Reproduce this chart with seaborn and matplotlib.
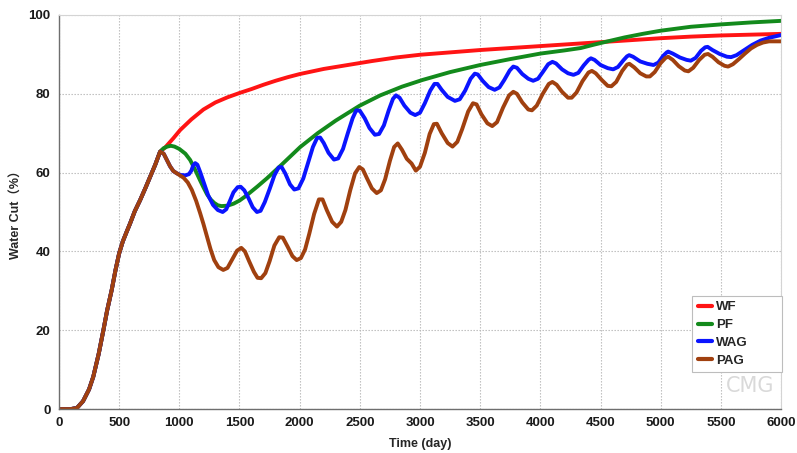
import matplotlib
matplotlib.use("Agg")
import matplotlib.pyplot as plt
from matplotlib.ticker import AutoMinorLocator
import seaborn as sns
import pandas as pd

# ---------------- data ----------------
rise_days = [0, 100, 150, 200, 250, 285, 330, 369, 400, 438, 470, 500, 530, 560, 591, 630, 674, 720, 757, 800, 840]
rise_vals = [0, 0, 0.3, 2, 5, 8.2, 14, 20, 25, 30.2, 35.3, 39.5, 42.5, 44.8, 47.1, 50.2, 53, 56.2, 58.9, 62, 65.3]

wf_days = [880, 950, 1007, 1100, 1200, 1300, 1400, 1500, 1600, 1700, 1800, 1900, 2000, 2200, 2400,
           2600, 2800, 3000, 3250, 3500, 3750, 4000, 4250, 4500, 4750, 5000, 5250, 5500, 5750, 6000]
wf_vals = [66.3, 68.7, 70.8, 73.5, 76, 77.8, 79.1, 80.2, 81.2, 82.3, 83.3, 84.2, 85, 86.3, 87.3,
           88.3, 89.2, 89.9, 90.5, 91.1, 91.6, 92.1, 92.6, 93.1, 93.6, 94.1, 94.5, 94.8, 95.0, 95.2]

pf_days = [870, 900, 930, 960, 1000, 1050, 1090, 1130, 1173, 1200, 1230, 1260, 1290, 1320, 1350,
           1400, 1450, 1500, 1550, 1650, 1730, 1850, 2005, 2150, 2300, 2500, 2670, 2850, 3020, 3250,
           3500, 3750, 4000, 4200, 4335, 4450, 4560, 4700, 4850, 5000, 5250, 5500, 5750, 6000]
pf_vals = [66.2, 66.6, 66.8, 66.6, 66, 64.8, 63.2, 60.8, 58, 56.3, 54.5, 53.2, 52.3, 51.7, 51.5,
           51.6, 52.1, 52.9, 54, 56.5, 58.6, 62, 66.5, 70, 73.2, 77, 79.6, 81.8, 83.5, 85.5,
           87.3, 88.8, 90.2, 91, 91.6, 92.5, 93.3, 94.3, 95.2, 96, 97, 97.6, 98.1, 98.5]

wag_days = [870, 900, 923, 950, 980, 1010, 1050, 1080, 1100, 1115, 1132, 1150, 1175, 1200, 1240,
            1280, 1320, 1360, 1390, 1420, 1450, 1485, 1510, 1540, 1575, 1610, 1645, 1675, 1710, 1750,
            1790, 1825, 1850, 1880, 1920, 1955, 1990, 2030, 2070, 2110, 2145, 2170, 2200, 2240, 2285,
            2320, 2360, 2400, 2440, 2470, 2500, 2540, 2580, 2625, 2660, 2700, 2740, 2775, 2800, 2830,
            2870, 2920, 2960, 3000, 3040, 3085, 3120, 3145, 3180, 3230, 3290, 3330, 3375, 3420, 3455,
            3480, 3520, 3570, 3620, 3660, 3700, 3745, 3775, 3805, 3850, 3900, 3940, 3980, 4020, 4065,
            4100, 4130, 4180, 4230, 4275, 4315, 4360, 4400, 4420, 4450, 4500, 4560, 4605, 4645, 4690,
            4720, 4738, 4770, 4830, 4890, 4940, 4980, 5020, 5050, 5062, 5100, 5160, 5215, 5250, 5290,
            5335, 5370, 5390, 5430, 5490, 5550, 5585, 5630, 5690, 5760, 5830, 5900, 6000]
wag_vals = [64.8, 63, 61.6, 60.4, 59.8, 59.4, 59.3, 59.6, 60.5, 61.8, 62.4, 62, 60, 57.8, 54.2,
            51.8, 50.5, 50, 50.7, 52.8, 55, 56.3, 56.4, 55.5, 53.5, 51.2, 50, 50.3, 52.5, 55.8,
            59.3, 61.3, 61.4, 59.8, 57, 55.7, 56, 58.5, 62.5, 66.5, 68.8, 68.9, 67.5, 65, 63.3,
            63.6, 66, 70, 73.8, 75.8, 75.7, 73.8, 71.3, 69.6, 69.8, 72, 75.8, 78.7, 79.6, 79,
            77, 75.2, 74.6, 75.2, 77.6, 80.8, 82.5, 82.5, 81, 79.2, 78.2, 78.6, 80.8, 83.8, 85.1,
            84.9, 83.3, 81.7, 81, 81.6, 83.5, 85.9, 86.9, 86.6, 85, 83.8, 83.3, 83.8, 85.5, 87.5,
            88.1, 87.7, 86.2, 85.2, 84.8, 85.3, 87.2, 88.6, 89, 88.6, 87.3, 86.5, 86.2, 86.8, 88.5,
            89.5, 89.8, 89.4, 88.2, 87.6, 87.3, 87.9, 89.6, 90.5, 90.7, 90.2, 89.2, 88.6, 88.4, 89.1,
            90.9, 91.8, 91.9, 91.1, 90.1, 89.4, 89.3, 89.8, 91, 92.4, 93.5, 94.2, 94.9]

pag_days = [870, 900, 923, 950, 990, 1035, 1070, 1104, 1140, 1173, 1200, 1230, 1260, 1290, 1325,
            1365, 1400, 1440, 1480, 1515, 1545, 1580, 1620, 1650, 1680, 1715, 1750, 1790, 1830, 1860,
            1900, 1940, 1975, 2010, 2045, 2080, 2120, 2160, 2190, 2225, 2270, 2310, 2345, 2380, 2420,
            2460, 2495, 2525, 2560, 2600, 2640, 2675, 2710, 2750, 2785, 2815, 2850, 2890, 2930, 2965,
            3000, 3040, 3080, 3115, 3140, 3180, 3230, 3270, 3310, 3350, 3400, 3440, 3470, 3510, 3560,
            3600, 3640, 3690, 3740, 3775, 3805, 3850, 3900, 3930, 3970, 4020, 4070, 4100, 4135, 4180,
            4230, 4260, 4300, 4350, 4400, 4428, 4460, 4510, 4560, 4590, 4630, 4680, 4720, 4740, 4780,
            4830, 4880, 4910, 4950, 5000, 5040, 5062, 5100, 5150, 5200, 5230, 5270, 5320, 5365, 5393,
            5430, 5480, 5530, 5560, 5600, 5650, 5700, 5750, 5800, 5850, 5900, 6000]
pag_vals = [64.8, 63, 61.6, 60.4, 59.6, 58.7, 57.5, 55.6, 52.8, 49.7, 47, 43.8, 40.5, 37.8, 36,
            35.3, 35.8, 38, 40.2, 40.9, 40, 37.5, 34.8, 33.3, 33.2, 34.5, 37.5, 41.5, 43.6, 43.5,
            41.2, 38.8, 37.8, 38.3, 40.5, 44.5, 49.5, 53.2, 53.2, 50.5, 47.5, 46.3, 47.5, 50.5, 55.5,
            59.8, 61.4, 60.8, 58.5, 56, 54.8, 55.5, 58.3, 63, 66.5, 67.4, 65.8, 63.5, 62.3, 60.5,
            61.5, 65, 69.8, 72.3, 72.4, 70, 67.5, 66.6, 67.8, 71, 75.5, 77.6, 77.3, 74.8, 72.5,
            71.8, 72.8, 76.5, 79.6, 80.5, 80, 77.8, 76, 75.8, 77, 80, 82.5, 83, 82.3, 80.5,
            79, 79, 80.3, 83.2, 85.4, 85.8, 85.2, 83.5, 82, 81.9, 83, 85.8, 87.4, 87.6, 86.7,
            85.2, 84.4, 84.4, 85.5, 87.8, 89.1, 89.4, 88.6, 87, 85.9, 85.7, 86.6, 88.6, 89.9, 90.1,
            89.4, 88, 87.1, 86.9, 87.5, 88.8, 90.2, 91.5, 92.4, 93, 93.3, 93.3]

series_names = ["WF", "PF", "WAG", "PAG"]
series_colors = ["#ff1414", "#138a1c", "#0a14ff", "#a0400f"]
x_ticks = [0, 500, 1000, 1500, 2000, 2500, 3000, 3500, 4000, 4500, 5000, 5500, 6000]
y_ticks = [0, 20, 40, 60, 80, 100]

# ---------------- build table ----------------
frames = []
for name, d, v in [("WF", wf_days, wf_vals), ("PF", pf_days, pf_vals),
                   ("WAG", wag_days, wag_vals), ("PAG", pag_days, pag_vals)]:
    frames.append(pd.DataFrame({"Time": rise_days + d, "WaterCut": rise_vals + v, "Series": name}))
df = pd.concat(frames, ignore_index=True)

# ---------------- plot ----------------
sns.set_style("white")
plt.rcParams["font.family"] = ["Liberation Sans", "Noto Sans CJK SC", "DejaVu Sans"]

fig = plt.figure(figsize=(7.97, 4.53), dpi=100)
ax = fig.add_axes([0.074, 0.097, 0.906, 0.870])

for name, col in zip(series_names, series_colors):
    sub = df[df["Series"] == name]
    sns.lineplot(data=sub, x="Time", y="WaterCut", color=col, lw=2.8,
                 sort=False, estimator=None, ax=ax, label=name)
for ln in ax.get_lines():
    ln.set_solid_joinstyle("round")
    ln.set_solid_capstyle("round")

ax.set_xlim(0, 6000)
ax.set_ylim(0, 100)
ax.set_xticks(x_ticks)
ax.set_yticks(y_ticks)
ax.xaxis.set_minor_locator(AutoMinorLocator(5))
ax.yaxis.set_minor_locator(AutoMinorLocator(3))

ax.grid(True, which="major", color="#b8b8b8", lw=0.8, linestyle=(0, (1.2, 1.5)))
ax.set_axisbelow(True)

for s in ["left", "bottom"]:
    ax.spines[s].set_color("#6e6e6e")
    ax.spines[s].set_linewidth(1.0)
for s in ["top", "right"]:
    ax.spines[s].set_color("#d4d4d4")
    ax.spines[s].set_linewidth(0.8)

ax.tick_params(axis="both", which="major", direction="out", length=4, width=0.8,
               color="#6e6e6e", labelsize=9.5, pad=2)
ax.tick_params(axis="both", which="minor", direction="in", length=2.5, width=0.6, color="#6e6e6e")
for lab in ax.get_xticklabels() + ax.get_yticklabels():
    lab.set_fontweight("bold")
    lab.set_color("#1a1a1a")

ax.set_xlabel("Time (day)", fontsize=9, fontweight="bold", labelpad=6)
ax.set_ylabel("Water Cut（%）", fontsize=9, fontweight="bold", labelpad=4)

leg = ax.legend(loc="lower left", bbox_to_anchor=(0.877, 0.094, 0.124, 0.2), mode="expand",
                frameon=True, fancybox=False, edgecolor="#bdbdbd", framealpha=1,
                handlelength=1.1, handletextpad=0.3, labelspacing=0.42, borderpad=0.4,
                borderaxespad=0, prop={"weight": "bold", "size": 9.5})
leg.get_frame().set_linewidth(0.8)
for line in leg.get_lines():
    line.set_linewidth(3)

ax.text(0.957, 0.058, "CMG", transform=ax.transAxes, ha="center", va="center",
        fontsize=15, color="#d9d9d9", family="DejaVu Sans")

fig.savefig("out.png", dpi=100)
